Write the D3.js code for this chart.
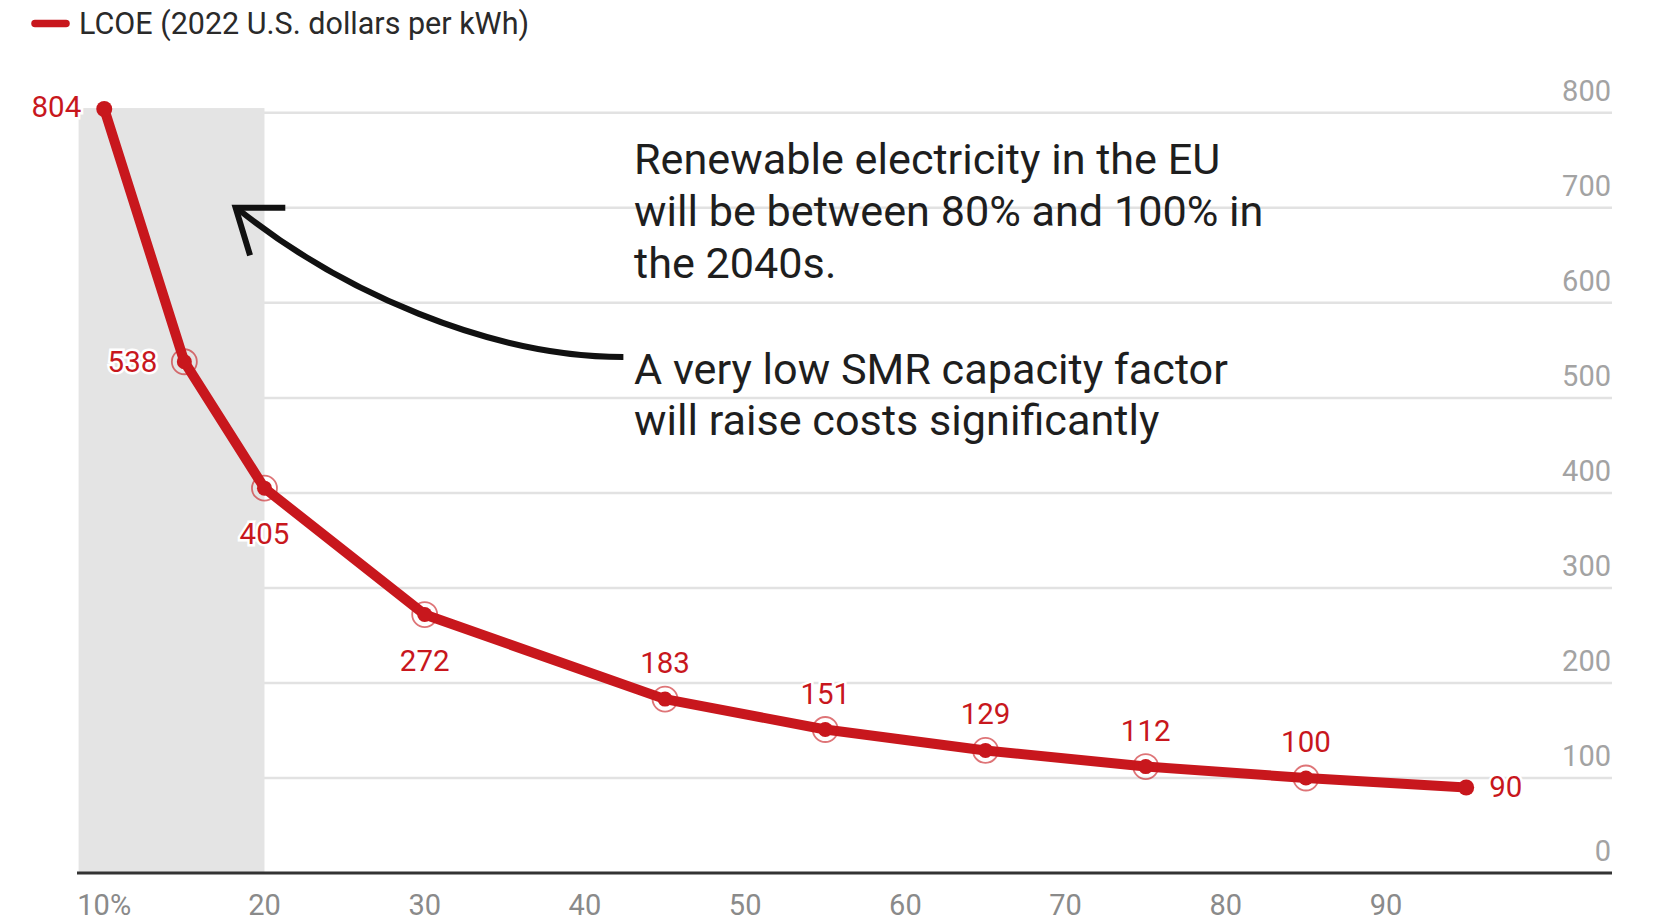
<!DOCTYPE html>
<html>
<head>
<meta charset="utf-8">
<script src="https://cdn.jsdelivr.net/npm/d3@7"></script>
<style>
  html, body { margin: 0; padding: 0; background: #fff; }
  svg { display: block; font-family: Roboto, "Noto Sans", sans-serif; }
</style>
</head>
<body>
<svg id="chart" width="1653" height="922"></svg>
<script>
// ---- data ----
const capacityFactor = [10, 15, 20, 30, 45, 55, 65, 75, 85, 95];
const lcoe = [804, 538, 405, 272, 183, 151, 129, 112, 100, 90];
const labelPlacement = ["left", "left", "below", "below", "above", "above", "above", "above", "above", "right"];
const yTickValues = [0, 100, 200, 300, 400, 500, 600, 700, 800];
const xTickValues = [10, 20, 30, 40, 50, 60, 70, 80, 90];
const xTickLabels = ["10%", "20", "30", "40", "50", "60", "70", "80", "90"];
const shadedRange = [8.4, 20];
const legendLabel = "LCOE (2022 U.S. dollars per kWh)";
const annotationTop = ["Renewable electricity in the EU", "will be between 80% and 100% in", "the 2040s."];
const annotationBottom = ["A very low SMR capacity factor", "will raise costs significantly"];

// ---- setup ----
const svg = d3.select("#chart");
const red = "#c8171d";
const x = d3.scaleLinear().domain([8.3, 104.1]).range([77, 1612]);
const y = d3.scaleLinear().domain([0, 800]).range([873, 112.8]);

// gridlines
svg.append("g").selectAll("line").data(yTickValues.filter(v => v > 0)).join("line")
  .attr("x1", x(shadedRange[0]) + 2).attr("x2", x(104.1))
  .attr("y1", d => y(d)).attr("y2", d => y(d))
  .attr("stroke", "#e2e2e2").attr("stroke-width", 2.5);

// shaded band
svg.append("rect")
  .attr("x", x(shadedRange[0])).attr("width", x(shadedRange[1]) - x(shadedRange[0]))
  .attr("y", y(805)).attr("height", y(0) - y(805))
  .attr("fill", "#e4e4e4");

// y tick labels (right side, above gridline)
svg.append("g").selectAll("text").data(yTickValues).join("text")
  .attr("x", 1611).attr("y", d => y(d) - 12)
  .attr("text-anchor", "end")
  .attr("font-size", 29)
  .attr("fill", "#a3a3a3")
  .attr("stroke", "#fff").attr("stroke-width", 4).attr("paint-order", "stroke")
  .text(d => d);

// x axis baseline
svg.append("line")
  .attr("x1", x(8.3)).attr("x2", x(104.1))
  .attr("y1", y(0)).attr("y2", y(0))
  .attr("stroke", "#333").attr("stroke-width", 3);

// x tick labels
svg.append("g").selectAll("text").data(xTickValues).join("text")
  .attr("x", d => x(d)).attr("y", 915)
  .attr("text-anchor", "middle")
  .attr("font-size", 29)
  .attr("fill", "#8a8a8a")
  .text((d, i) => xTickLabels[i]);

// annotation arrow
const arrow = d3.path();
arrow.moveTo(x(42.4), y(543));
arrow.bezierCurveTo(x(34.0), y(543), x(24.7), y(613), x(18.4), y(698));
svg.append("path").attr("d", arrow.toString())
  .attr("fill", "none").attr("stroke", "#111").attr("stroke-width", 6);
const head = d3.path();
head.moveTo(x(21.3), y(700));
head.lineTo(x(18.2), y(700));
head.lineTo(x(19.1), y(650));
svg.append("path").attr("d", head.toString())
  .attr("fill", "none").attr("stroke", "#111").attr("stroke-width", 6)
  .attr("stroke-linejoin", "miter");

// annotations
const annTop = svg.append("text").attr("font-size", 43.2).attr("fill", "#1e1e1e");
annotationTop.forEach((t, i) => annTop.append("tspan").attr("x", 634).attr("y", 174 + i * 52).text(t));
const annBot = svg.append("text").attr("font-size", 43.2).attr("fill", "#1e1e1e");
annotationBottom.forEach((t, i) => annBot.append("tspan").attr("x", 634).attr("y", 384 + i * 51).text(t));

// data line
const pts = capacityFactor.map((c, i) => ({ c, v: lcoe[i], p: labelPlacement[i], i }));
svg.append("path").datum(pts)
  .attr("d", d3.line().x(d => x(d.c)).y(d => y(d.v)))
  .attr("fill", "none").attr("stroke", red).attr("stroke-width", 10)
  .attr("stroke-linejoin", "round");

// markers
const inner = pts.filter((d, i) => i > 0 && i < pts.length - 1);
svg.append("g").selectAll("circle").data(inner).join("circle")
  .attr("cx", d => x(d.c)).attr("cy", d => y(d.v)).attr("r", 12.5)
  .attr("fill", "none").attr("stroke", red).attr("stroke-opacity", 0.6).attr("stroke-width", 1.8);
svg.append("g").selectAll("circle").data(pts).join("circle")
  .attr("cx", d => x(d.c)).attr("cy", d => y(d.v))
  .attr("r", (d, i) => (i === 0 || i === pts.length - 1) ? 8 : 7.5)
  .attr("fill", red);

// data labels
const off = { left: [-27, 0, "end"], right: [23, 0, "start"], above: [0, -36, "middle"], below: [0, 46, "middle"] };
const isEnd = d => d.i === 0 || d.i === pts.length - 1;
svg.append("g").selectAll("text").data(pts).join("text")
  .attr("x", d => x(d.c) + off[d.p][0] + (d.i === 0 ? 4 : 0))
  .attr("y", d => y(d.v) + off[d.p][1] + (d.i === 0 ? -2 : 0))
  .attr("text-anchor", d => off[d.p][2])
  .attr("dominant-baseline", "central")
  .attr("font-size", 29.5)
  .attr("fill", red)
  .attr("stroke", "#fff").attr("stroke-width", 5).attr("paint-order", "stroke")
  .text(d => d.v);

// legend
svg.append("line").attr("x1", 35).attr("x2", 66).attr("y1", 23.5).attr("y2", 23.5)
  .attr("stroke", red).attr("stroke-width", 7.5).attr("stroke-linecap", "round");
svg.append("text").attr("x", 79).attr("y", 34)
  .attr("font-size", 30.5).attr("fill", "#2a2a2a")
  .text(legendLabel);
</script>
</body>
</html>
